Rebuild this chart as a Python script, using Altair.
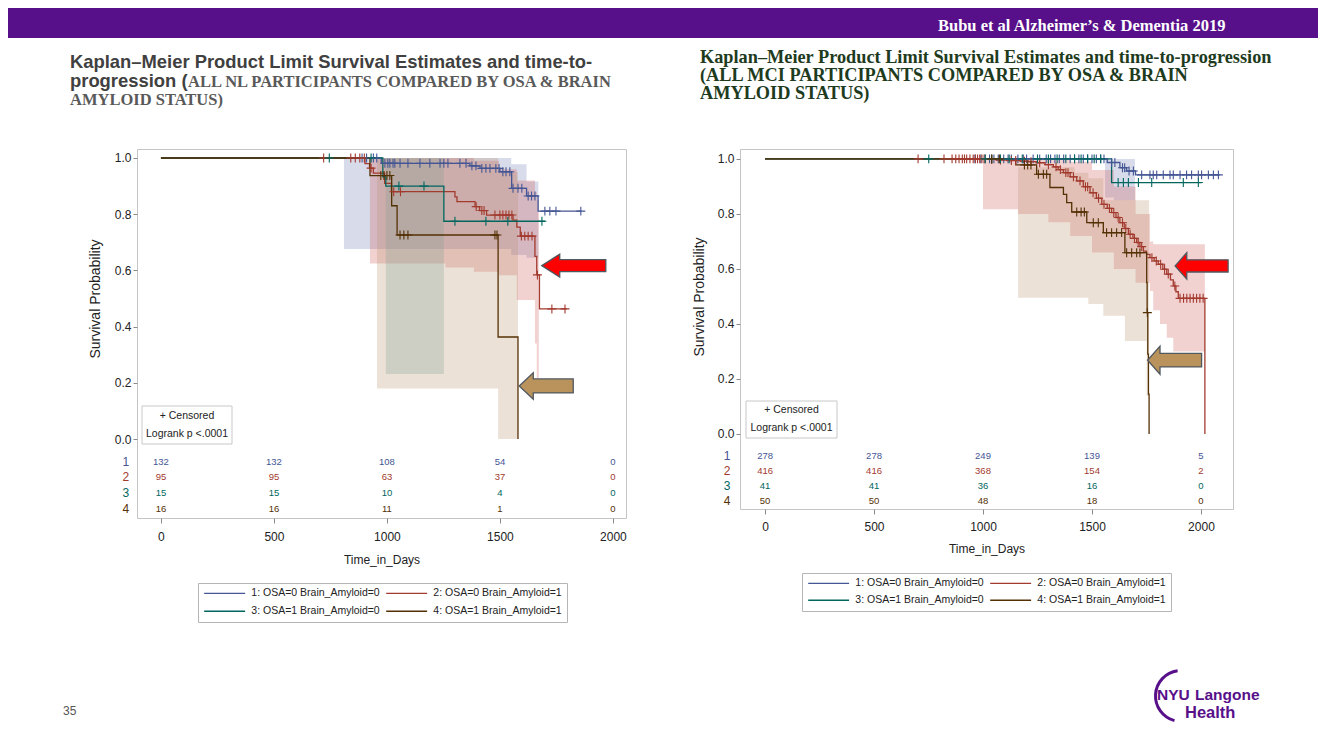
import altair as alt
import pandas as pd

# ------------------------------------------------------------------ data
GROUPS = ["1: OSA=0 Brain_Amyloid=0", "2: OSA=0 Brain_Amyloid=1",
          "3: OSA=1 Brain_Amyloid=0", "4: OSA=1 Brain_Amyloid=1"]
GROUP_IDS = ["1", "2", "3", "4"]
LINE_COLORS = ["#445694", "#A23A2E", "#01665E", "#543005"]
BAND_COLORS = ["#6F7EB3", "#D05B5B", "#66A5A0", "#B9946F"]
TIME_TICKS = [0, 500, 1000, 1500, 2000]
SURV_TICKS = [0.0, 0.2, 0.4, 0.6, 0.8, 1.0]

# ---- NL participants (left panel): step curves (day, survival)
nl_t1 = [0, 975, 1367, 1412, 1500, 1552, 1618, 1669, 1861]
nl_s1 = [1.0, 0.981, 0.972, 0.963, 0.951, 0.892, 0.865, 0.811, 0.811]
nl_t2 = [0, 903, 923, 940, 990, 1020, 1301, 1310, 1390, 1410, 1441, 1558, 1575, 1590, 1655, 1663, 1675, 1796]
nl_s2 = [1.0, 0.98, 0.964, 0.946, 0.91, 0.88, 0.862, 0.845, 0.827, 0.813, 0.797, 0.779, 0.754, 0.722, 0.65, 0.584, 0.463, 0.463]
nl_t3 = [0, 982, 995, 1252, 1700]
nl_s3 = [1.0, 0.933, 0.90, 0.775, 0.775]
nl_t4 = [0, 925, 1021, 1045, 1492, 1580]
nl_s4 = [1.0, 0.9375, 0.83, 0.726, 0.363, 0.0]
# censored times
nl_c1 = [890, 910, 940, 955, 991, 1004, 1013, 1027, 1035, 1058, 1093, 1146, 1190, 1235, 1252, 1270, 1323,
         1350, 1376, 1394, 1420, 1438, 1456, 1482, 1496, 1513, 1527, 1544, 1558, 1580, 1597, 1625, 1640,
         1655, 1699, 1721, 1748, 1858]
nl_c2 = [720, 840, 860, 880, 900, 930, 1030, 1060, 1395, 1420, 1430, 1478, 1500, 1513, 1527, 1540, 1553,
         1595, 1610, 1625, 1642, 1666, 1730, 1788]
nl_c3 = [745, 930, 1053, 1164, 1301, 1438, 1535, 1686]
nl_c4 = [973, 987, 1000, 1013, 1058, 1075, 1093, 1478, 1487]
# confidence bands (day, lower, upper)
nl_b1_t = [810, 1550, 1618, 1670]
nl_b1_lo = [0.676, 0.655, 0.645, 0.645]
nl_b1_hi = [1.0, 0.978, 0.916, 0.916]
nl_b2_t = [925, 1259, 1385, 1496, 1575, 1655, 1663, 1672]
nl_b2_lo = [0.625, 0.61, 0.595, 0.583, 0.495, 0.34, 0.217, 0.217]
nl_b2_hi = [1.0, 1.0, 0.99, 0.96, 0.92, 0.88, 0.85, 0.85]
nl_b3_t = [995, 1252]
nl_b3_lo = [0.231, 0.231]
nl_b3_hi = [1.0, 1.0]
nl_b4_t = [956, 1492, 1580]
nl_b4_lo = [0.18, 0.0, 0.0]
nl_b4_hi = [1.0, 0.95, 0.95]
nl_risk1 = [132, 132, 108, 54, 0]
nl_risk2 = [95, 95, 63, 37, 0]
nl_risk3 = [15, 15, 10, 4, 0]
nl_risk4 = [16, 16, 11, 1, 0]

# ---- MCI participants (right panel)
mci_t1 = [0, 1570, 1628, 1659, 1700, 2087]
mci_s1 = [1.0, 0.987, 0.968, 0.956, 0.942, 0.942]
mci_t2 = [0, 1017, 1060, 1110, 1170, 1210, 1246, 1285, 1323, 1345, 1369, 1400, 1430, 1460, 1491, 1520,
          1545, 1570, 1590, 1610, 1628, 1648, 1667, 1688, 1705, 1720, 1736, 1750, 1766, 1785, 1804, 1825,
          1843, 1860, 1873, 1885, 1896, 2018]
mci_s2 = [1.0, 0.998, 0.996, 0.994, 0.992, 0.990, 0.986, 0.979, 0.971, 0.961, 0.950, 0.935, 0.920, 0.899,
          0.877, 0.857, 0.835, 0.820, 0.805, 0.787, 0.768, 0.747, 0.726, 0.711, 0.696, 0.681, 0.665, 0.653,
          0.641, 0.629, 0.617, 0.599, 0.581, 0.560, 0.538, 0.517, 0.493, 0.0]
mci_t3 = [0, 1590, 2003]
mci_s3 = [1.0, 0.914, 0.914]
mci_t4 = [0, 1150, 1246, 1307, 1369, 1384, 1407, 1476, 1552, 1651, 1751, 1753, 1756, 1759, 1762]
mci_s4 = [1.0, 0.978, 0.944, 0.896, 0.871, 0.841, 0.807, 0.768, 0.732, 0.659, 0.55, 0.441, 0.29, 0.145, 0.0]
mci_c1 = [963, 990, 1010, 1030, 1050, 1070, 1095, 1115, 1130, 1160, 1185, 1200, 1230, 1260, 1290, 1310,
          1330, 1350, 1370, 1400, 1420, 1440, 1460, 1480, 1500, 1520, 1540, 1555, 1590, 1605, 1640, 1650,
          1670, 1690, 1728, 1766, 1781, 1797, 1827, 1858, 1873, 1904, 1934, 1957, 1988, 2003, 2034, 2057, 2080]
mci_c2 = [702, 821, 858, 875, 890, 905, 915, 925, 940, 955, 965, 975, 985, 995, 1005, 1040, 1080, 1130,
          1150, 1190, 1220, 1260, 1300, 1335, 1355, 1380, 1390, 1415, 1445, 1470, 1480, 1505, 1530, 1555,
          1580, 1600, 1620, 1640, 1655, 1675, 1695, 1712, 1728, 1775, 1795, 1815, 1833, 1850, 1880, 1904,
          1920, 1935, 1950, 1965, 1980, 1995, 2010]
mci_c3 = [751, 1010, 1040, 1080, 1120, 1180, 1250, 1300, 1340, 1380, 1420, 1450, 1480, 1510, 1540, 1620,
          1644, 1667, 1713, 1774, 1919, 1988]
mci_c4 = [1040, 1075, 1190, 1205, 1220, 1254, 1277, 1292, 1430, 1450, 1465, 1506, 1529, 1567, 1590, 1613,
          1636, 1659, 1682, 1705, 1720, 1754]
mci_b1_t = [1560, 1600, 1697]
mci_b1_lo = [0.86, 0.85, 0.85]
mci_b1_hi = [1.0, 1.0, 1.0]
mci_b2_t = [1000, 1161, 1300, 1400, 1500, 1600, 1700, 1766, 1781, 1812, 1843, 1873, 2018]
mci_b2_lo = [0.817, 0.80, 0.77, 0.72, 0.66, 0.60, 0.55, 0.52, 0.45, 0.40, 0.35, 0.30, 0.30]
mci_b2_hi = [1.0, 1.0, 1.0, 0.99, 0.96, 0.90, 0.80, 0.70, 0.69, 0.69, 0.69, 0.69, 0.69]
mci_b3_t, mci_b3_lo, mci_b3_hi = [], [], []
mci_b4_t = [1161, 1420, 1483, 1552, 1651, 1751, 1762]
mci_b4_lo = [0.495, 0.495, 0.472, 0.43, 0.338, 0.138, 0.138]
mci_b4_hi = [0.97, 0.95, 0.93, 0.85, 0.85, 0.85, 0.85]
mci_risk1 = [278, 278, 249, 139, 5]
mci_risk2 = [416, 416, 368, 154, 2]
mci_risk3 = [41, 41, 36, 16, 0]
mci_risk4 = [50, 50, 48, 18, 0]

# arrows (day, survival) pointing at the curves
nl_red_arrow = (1827, 0.617)
nl_tan_arrow = (1705, 0.189)
mci_red_arrow = (2003, 0.611)
mci_tan_arrow = (1879, 0.268)

TITLE_NL_1 = "Kaplan\u2013Meier Product Limit Survival Estimates and time-to-"
TITLE_NL_2A = "progression ("
TITLE_NL_2B = "ALL NL PARTICIPANTS COMPARED BY OSA & BRAIN"
TITLE_NL_3 = "AMYLOID STATUS)"
TITLE_MCI = ["Kaplan\u2013Meier Product Limit Survival Estimates and time-to-progression",
             "(ALL MCI PARTICIPANTS COMPARED BY OSA & BRAIN",
             "AMYLOID STATUS)"]
BANNER = "Bubu et al Alzheimer\u2019s & Dementia 2019"

# ------------------------------------------------------------------ style
SANS = "Liberation Sans, Arial, sans-serif"
SERIF = "Liberation Serif, Times New Roman, serif"
PURPLE = "#57108a"
FRAME = "#c4c4c4"
INK = "#222222"
PLUS = "M0,-1L0,1M-1,0L1,0"


def arrow_path(base, head, shaft):
    return (f"M-1,0L{base},-{head}L{base},-{shaft}L1,-{shaft}L1,{shaft}"
            f"L{base},{shaft}L{base},{head}Z")


def step_lookup(ts, ss, t):
    v = ss[0]
    for ti, si in zip(ts, ss):
        if ti <= t:
            v = si
        else:
            break
    return v


ONE = pd.DataFrame({"k": [0]})


def txt(x, y, s, **kw):
    return alt.Chart(ONE).mark_text(**kw).encode(
        x=alt.value(x), y=alt.value(y), text=alt.value(s))


def panel(curves, censors, bands, risks, L):
    xs = alt.Scale(domain=L["xdom"], nice=False, zero=False)
    ys = alt.Scale(domain=L["ydom"], nice=False, zero=False)
    xax = alt.Axis(values=TIME_TICKS, format="d", title="Time_in_Days", grid=False, domain=False,
                   tickColor="#8a8a8a", tickSize=5, labelFont=SANS, labelFontSize=12,
                   labelColor=INK, labelPadding=L["xlabpad"], labelFlush=False,
                   titleFont=SANS, titleFontSize=12, titleFontWeight="normal",
                   titleColor=INK, titlePadding=L["xtitlepad"])
    yax = alt.Axis(values=SURV_TICKS, format=".1f", title="Survival Probability", grid=False,
                   domain=False, tickColor="#8a8a8a", tickSize=4, labelFont=SANS,
                   labelFontSize=12, labelColor=INK, labelPadding=2,
                   titleFont=SANS, titleFontSize=14, titleFontWeight="normal",
                   titleColor=INK, titleX=L["titleX"], titleY=L["titleY"],
                   titleAngle=270, titleAlign="center", titleBaseline="middle")

    def X(f):
        return alt.X(f, type="quantitative", scale=xs, axis=xax)

    def Y(f):
        return alt.Y(f, type="quantitative", scale=ys, axis=yax)

    crow, brow, crow_c, rrow, lrow = [], [], [], [], []
    for g in range(4):
        ts, ss = curves[g]
        for i, (t, s) in enumerate(zip(ts, ss)):
            crow.append({"t": t, "s": s, "grp": GROUPS[g], "i": i})
        for t in censors[g]:
            crow_c.append({"t": t, "s": step_lookup(ts, ss, t), "col": LINE_COLORS[g]})
        bt, blo, bhi = bands[g]
        for t, lo, hi in zip(bt, blo, bhi):
            brow.append({"t": t, "lo": lo, "hi": hi, "fc": BAND_COLORS[g], "g": g})
        for t, n in zip(TIME_TICKS, risks[g]):
            rrow.append({"t": t, "ry": L["rows"][g], "n": str(n), "col": LINE_COLORS[g]})
        lrow.append({"lx": L["labx"], "ry": L["rows"][g], "lab": GROUP_IDS[g], "col": LINE_COLORS[g]})

    band_layer = alt.Chart(pd.DataFrame(brow)).mark_area(
        interpolate="step-after", fillOpacity=0.28, strokeWidth=0).encode(
        x=X("t"), y=Y("lo"), y2="hi:Q", fill=alt.Fill("fc:N", scale=None), detail="g:N")

    # legend symbol: a 41px horizontal line drawn from a small nominal symbol
    leg = alt.Legend(title=None, orient="none", legendX=L["legX"], legendY=L["legY"], columns=2,
                     direction="horizontal", symbolType="M-5,0L5,0", symbolSize=67,
                     symbolOffset=16.4, symbolStrokeWidth=1.3, labelFont=SANS, labelFontSize=10.5,
                     labelColor=INK, labelOffset=21.4, strokeColor="#b5b5b5", fillColor="white",
                     padding=5, rowPadding=L["legrow"], columnPadding=3, labelLimit=300)
    line_layer = alt.Chart(pd.DataFrame(crow)).mark_line(
        interpolate="step-after", strokeWidth=1.3).encode(
        x=X("t"), y=Y("s"),
        color=alt.Color("grp:N", scale=alt.Scale(domain=GROUPS, range=LINE_COLORS), legend=leg),
        order="i:Q")
    cens_layer = alt.Chart(pd.DataFrame(crow_c)).mark_point(
        shape=PLUS, size=80, strokeWidth=1.1, filled=False, opacity=1).encode(
        x=X("t"), y=Y("s"), color=alt.Color("col:N", scale=None))
    risk_layer = alt.Chart(pd.DataFrame(rrow)).mark_text(font=SANS, fontSize=9.5).encode(
        x=X("t"), y=Y("ry"), text="n:N", color=alt.Color("col:N", scale=None))
    lab_layer = alt.Chart(pd.DataFrame(lrow)).mark_text(font=SANS, fontSize=12).encode(
        x=X("lx"), y=Y("ry"), text="lab:N", color=alt.Color("col:N", scale=None))

    bx0, by0, bx1, by1 = L["box"]
    box = alt.Chart(ONE).mark_rect(fill="white", stroke="#c8c8c8", strokeWidth=1).encode(
        x=alt.value(bx0), x2=alt.value(bx1), y=alt.value(by0), y2=alt.value(by1))
    cx = (bx0 + bx1) / 2
    box_t1 = txt(cx, L["boxty"][0], "+ Censored", font=SANS, fontSize=10.5, color=INK)
    box_t2 = txt(cx, L["boxty"][1], "Logrank p <.0001", font=SANS, fontSize=10.5, color=INK)

    arrows = []
    for (t, s), path, size, fill in L["arrows"]:
        arrows.append(alt.Chart(pd.DataFrame({"t": [t], "s": [s]})).mark_point(
            shape=path, size=size, filled=True, fill=fill, stroke="#505860",
            strokeWidth=1.3, opacity=1).encode(x=X("t"), y=Y("s")))

    layers = [band_layer, line_layer, cens_layer, risk_layer, lab_layer, box, box_t1, box_t2]
    layers += arrows + L["extra"]
    return alt.layer(*layers).properties(
        width=L["w"], height=L["h"],
        view=alt.ViewBackground(stroke=FRAME, strokeWidth=1, fill="white"))


# ------------------------------------------------------------------ left panel
left_extra = [
    txt(-67, -81, TITLE_NL_1, align="left", baseline="alphabetic", font=SANS, fontSize=18.4,
        fontWeight="bold", color="#404040"),
    txt(-67, -62, TITLE_NL_2A, align="left", baseline="alphabetic", font=SANS, fontSize=18.4,
        fontWeight="bold", color="#404040"),
    txt(51, -62, TITLE_NL_2B, align="left", baseline="alphabetic", font=SERIF, fontSize=16.5,
        fontWeight="bold", color="#595959"),
    txt(-67, -44, TITLE_NL_3, align="left", baseline="alphabetic", font=SERIF, fontSize=16.5,
        fontWeight="bold", color="#595959"),
    txt(-74, 566, "35", align="left", baseline="alphabetic", font=SANS, fontSize=12, color="#555555"),
]
L_left = dict(
    w=489, h=369, xdom=[-106, 2058], ydom=[-0.281, 1.032],
    rows=[-0.082, -0.135, -0.192, -0.249], labx=-155,
    titleX=-42, titleY=149.5, legX=61, legY=434, legrow=7, xlabpad=8, xtitlepad=12,
    box=(5, 257, 95, 295), boxty=(267, 285),
    arrows=[(nl_red_arrow, arrow_path(-0.44, 0.36, 0.19), 4096, "#ff0000"),
            (nl_tan_arrow, arrow_path(-0.48, 0.49, 0.26), 2916, "#b9935b")],
    extra=left_extra)
left = panel(
    [(nl_t1, nl_s1), (nl_t2, nl_s2), (nl_t3, nl_s3), (nl_t4, nl_s4)],
    [nl_c1, nl_c2, nl_c3, nl_c4],
    [(nl_b1_t, nl_b1_lo, nl_b1_hi), (nl_b2_t, nl_b2_lo, nl_b2_hi),
     (nl_b3_t, nl_b3_lo, nl_b3_hi), (nl_b4_t, nl_b4_lo, nl_b4_hi)],
    [nl_risk1, nl_risk2, nl_risk3, nl_risk4], L_left)

# ------------------------------------------------------------------ right panel
right_extra = [
    txt(-40, -86, TITLE_MCI[0], align="left", baseline="alphabetic", font=SERIF, fontSize=18.3,
        fontWeight="bold", color="#1e3b1e"),
    txt(-40, -68, TITLE_MCI[1], align="left", baseline="alphabetic", font=SERIF, fontSize=18.3,
        fontWeight="bold", color="#1e3b1e"),
    txt(-40, -50, TITLE_MCI[2], align="left", baseline="alphabetic", font=SERIF, fontSize=18.3,
        fontWeight="bold", color="#1e3b1e"),
    alt.Chart(ONE).mark_arc(color=PURPLE).encode(
        x=alt.value(441), y=alt.value(547), theta=alt.value(3.4), theta2=alt.value(6.15),
        radius=alt.value(27), radius2=alt.value(24)),
    txt(417, 551, "NYU", align="left", baseline="alphabetic", font=SANS, fontSize=15.5,
        fontWeight="bold", color=PURPLE),
    txt(455, 551, "Langone", align="left", baseline="alphabetic", font=SANS, fontSize=15.5,
        fontWeight="bold", color=PURPLE),
    txt(445, 569, "Health", align="left", baseline="alphabetic", font=SANS, fontSize=16.5,
        fontWeight="bold", color=PURPLE),
]
L_right = dict(
    w=493, h=360, xdom=[-115, 2147], ydom=[-0.273, 1.036],
    rows=[-0.080, -0.135, -0.189, -0.244], labx=-174,
    titleX=-41, titleY=147.5, legX=62, legY=424, legrow=6, xlabpad=7, xtitlepad=11,
    box=(6, 252, 97, 289), boxty=(261, 279),
    arrows=[(mci_red_arrow, arrow_path(-0.56, 0.5, 0.23), 2809, "#ff0000"),
            (mci_tan_arrow, arrow_path(-0.54, 0.52, 0.25), 2916, "#b9935b")],
    extra=right_extra)
right = panel(
    [(mci_t1, mci_s1), (mci_t2, mci_s2), (mci_t3, mci_s3), (mci_t4, mci_s4)],
    [mci_c1, mci_c2, mci_c3, mci_c4],
    [(mci_b1_t, mci_b1_lo, mci_b1_hi), (mci_b2_t, mci_b2_lo, mci_b2_hi),
     (mci_b3_t, mci_b3_lo, mci_b3_hi), (mci_b4_t, mci_b4_lo, mci_b4_hi)],
    [mci_risk1, mci_risk2, mci_risk3, mci_risk4], L_right)

# ------------------------------------------------------------------ banner + layout
banner = txt(930, 23, BANNER, align="left", baseline="alphabetic", font=SERIF, fontSize=16.5,
             fontWeight="bold", color="white").properties(
    width=1310, height=30, view=alt.ViewBackground(fill=PURPLE, stroke=None))

spacer = txt(0, 0, "", font=SANS).properties(width=15, height=10)

row = alt.hconcat(spacer, left, right, spacing=114, bounds="flush").resolve_scale(
    color="independent").resolve_legend(color="independent")
chart = alt.vconcat(banner, row, spacing=111, bounds="flush").properties(
    padding=0, background="white").configure_view(stroke=None)

chart.save("out.html", embed_options={"renderer": "svg", "actions": False})
